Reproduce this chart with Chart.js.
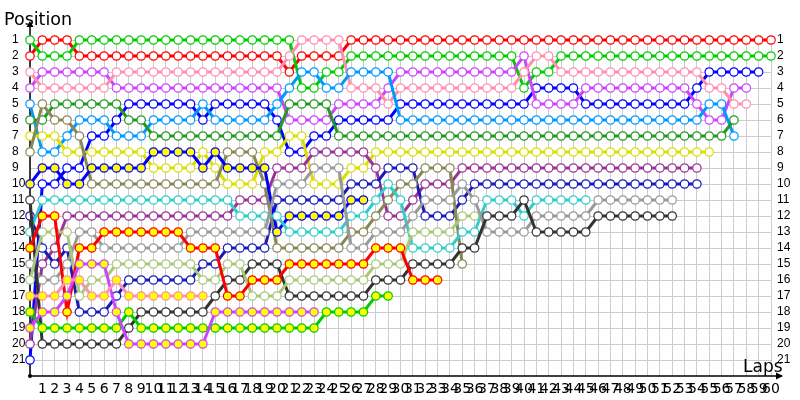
<!DOCTYPE html>
<html><head><meta charset="utf-8">
<script src="https://cdn.jsdelivr.net/npm/chart.js@4/dist/chart.umd.min.js"></script>
<style>html,body{margin:0;padding:0;background:#fff;}#wrap{width:800px;height:400px;position:relative;}</style>
</head><body><div id="wrap"><canvas id="c"></canvas></div>
<script>
// ---- DATA ----
const lapLabels = [0,1,2,3,4,5,6,7,8,9,10,11,12,13,14,15,16,17,18,19,20,21,22,23,24,25,26,27,28,29,30,31,32,33,34,35,36,37,38,39,40,41,42,43,44,45,46,47,48,49,50,51,52,53,54,55,56,57,58,59,60];
const positionTicks = [1,2,3,4,5,6,7,8,9,10,11,12,13,14,15,16,17,18,19,20,21];

const red = [2,1,1,1,2,2,2,2,2,2, 2,2,2,2,2,2,2,2,2,2, 2,3,2,2,2,2,1,1,1,1, 1,1,1,1,1,1,1,1,1,1, 1,1,1,1,1,1,1,1,1,1, 1,1,1,1,1,1,1,1,1,1, 1];
const green = [1,2,2,2,1,1,1,1,1,1, 1,1,1,1,1,1,1,1,1,1, 1,1,4,4,3,3,2,2,2,2, 2,2,2,2,2,2,2,2,2,2, 4,3,3,2,2,2,2,2,2,2, 2,2,2,2,2,2,2,2,2,2, 2];
const pink = [3,4,4,4,4,4,4,3,3,3, 3,3,3,3,3,3,3,3,3,3, 3,2,1,1,1,1,4,4,4,5, 4,4,4,4,4,4,4,4,4,4, 3,2,2,3,3,3,3,3,3,3, 3,3,3,3,3,4,4,5,5];
const purple = [4,3,3,3,3,3,3,4,4,4, 4,4,4,4,4,4,4,4,4,4, 4,6,6,6,6,5,5,5,5,4, 3,3,3,3,3,3,3,3,3,3, 2,5,5,5,5,4,4,4,4,4, 4,4,4,4,5,6,6,4,4];
const blue = [21,10,10,9,9,7,7,6,5,5, 5,5,5,5,6,5,5,5,5,5, 6,8,8,7,7,6,6,6,6,6, 5,5,5,5,5,5,5,5,5,5, 5,4,4,4,4,5,5,5,5,5, 5,5,5,5,4,3,3,3,3,3];
const sky = [5,8,8,7,6,6,6,7,7,7, 6,6,6,6,5,6,6,6,6,6, 5,4,3,3,4,4,3,3,3,3, 6,6,6,6,6,6,6,6,6,6, 6,6,6,6,6,6,6,6,6,6, 6,6,6,6,6,5,5,7];
const dkGreen = [6,6,5,5,5,5,5,5,6,6, 7,7,7,7,7,7,7,7,7,7, 7,5,5,5,5,7,7,7,7,7, 7,7,7,7,7,7,7,7,7,7, 7,7,7,7,7,7,7,7,7,7, 7,7,7,7,7,7,7,6];
const yellow = [7,7,7,8,8,8,8,8,8,8, 9,9,9,9,8,9,10,10,10,8, 8,7,7,10,10,10,9,9,8,8, 8,8,8,8,8,8,8,8,8,8, 8,8,8,8,8,8,8,8,8,8, 8,8,8,8,8,8];
const olive = [8,5,6,6,7,10,10,10,10,10, 10,10,10,10,10,10,8,8,8,10, 14,14,14,14,14,14,13,13,12,11, 10,10,9,9,9,15];
const blueY = [10,9,9,10,10,9,9,9,9,9, 8,8,8,8,9,8,9,9,9,9, 13,12,12,12,12,12,11,11];
const teal = [13,11,11,11,11,11,11,11,11,11, 11,11,11,11,11,11,11,12,12,12, 12,13,13,13,13,13,12,12,11,10, 11,14,14,14,14,13,13,11,11,11, 12,11,11,11,11,11];
const plum = [20,15,14,12,12,12,12,12,12,12, 12,12,12,12,12,12,12,11,11,11, 9,9,9,8,8,8,8,8,9,12, 12,11,10,10,10,9,9,9,9,9, 9,9,9,9,9,9,9,9,9,9, 9,9,9,9,9];
const navy = [12,14,15,14,18,18,18,17,16,16, 16,16,16,16,15,15,14,14,14,14, 11,11,11,11,11,11,10,10,10,9, 9,9,12,12,12,11,10,10,10,10, 10,10,10,10,10,10,10,10,10,10, 10,10,10,10,10];
const gray = [15,16,16,15,13,13,14,14,14,14, 14,14,14,13,13,13,13,13,13,13, 10,10,10,9,9,9,14,14,13,13, 13,12,11,11,11,10,11,13,13,13, 13,12,12,12,12,12,11,11,11,11, 11,11,11];
const dkGray = [11,20,20,20,20,20,20,20,19,18, 18,18,18,18,18,17,16,16,15,15, 15,17,17,17,17,17,17,17,16,16, 16,15,15,15,15,14,14,12,12,12, 11,13,13,13,13,13,12,12,12,12, 12,12,12];
const ltGreen = [16,13,13,13,17,16,16,15,15,15, 15,15,15,15,16,16,15,15,17,17, 17,16,16,16,16,16,16,16,15,15, 15,13,13,13,13,12,12];
const redY = [14,12,12,18,14,14,13,13,13,13, 13,13,13,14,14,14,17,17,16,16, 16,15,15,15,15,15,15,15,14,14, 14,16,16,16];
const greenY = [18,19,19,19,19,19,19,19,18,19, 19,19,19,19,19,19,19,19,19,19, 19,19,19,19,18,18,18,18,17,17];
const magentaY = [19,18,18,17,15,15,15,18,20,20, 20,20,20,20,20,18,18,18,18,18, 18,18,18,18];
const pinkY = [17,17,17,16,16,17,17,16,17,17, 17,17,17,17,17];

// ---- STYLE ----
const W = '#ffffff', Y = '#ffff00';
const series = [
  ['pinkY', pinkY, '#ff8fb0', Y],
  ['magentaY', magentaY, '#cc44ff', Y],
  ['greenY', greenY, '#00cc00', Y],
  ['redY', redY, '#ff0000', Y],
  ['ltGreen', ltGreen, '#aac87a', W],
  ['dkGray', dkGray, '#333333', W],
  ['gray', gray, '#999999', W],
  ['teal', teal, '#33cccc', W],
  ['blueY', blueY, '#0000ff', Y],
  ['olive', olive, '#888855', W],
  ['navy', navy, '#1a1ab8', W],
  ['plum', plum, '#993399', W],
  ['yellow', yellow, '#dddd00', W],
  ['dkGreen', dkGreen, '#229922', W],
  ['sky', sky, '#0099ff', W],
  ['pink', pink, '#ff8fb0', W],
  ['purple', purple, '#cc44ff', W],
  ['blue', blue, '#0000ff', W],
  ['green', green, '#00cc00', W],
  ['red', red, '#ff0000', W]
];

const datasets = series.map(([name, data, col, fill]) => ({
  label: name, data: data, borderColor: col, backgroundColor: fill,
  pointBorderColor: col, pointBackgroundColor: fill,
  borderWidth: 3, pointRadius: 4.2, pointHoverRadius: 4.2, pointBorderWidth: 1.2,
  tension: 0, clip: false, fill: false
}));

const deco = {
  id: 'deco',
  beforeDatasetsDraw(chart) {
    const ctx = chart.ctx, xs = chart.scales.x, ys = chart.scales.y;
    const x0 = xs.getPixelForValue(0), yb = ys.getPixelForValue(22);
    ctx.save();
    ctx.strokeStyle = '#000'; ctx.fillStyle = '#000'; ctx.lineWidth = 1.5;
    ctx.beginPath(); ctx.moveTo(x0, yb); ctx.lineTo(x0, 26); ctx.stroke();
    ctx.beginPath(); ctx.moveTo(x0 - 3.5, 27); ctx.lineTo(x0 + 3.5, 27); ctx.lineTo(x0, 21); ctx.closePath(); ctx.fill();
    ctx.beginPath(); ctx.moveTo(x0, yb); ctx.lineTo(782, yb); ctx.stroke();
    ctx.beginPath(); ctx.moveTo(776, yb - 3.5); ctx.lineTo(776, yb + 3.5); ctx.lineTo(783, yb); ctx.closePath(); ctx.fill();
    ctx.beginPath(); ctx.arc(x0, yb, 2, 0, Math.PI * 2); ctx.fill();
    ctx.restore();
  },
  afterDraw(chart) {
    const ctx = chart.ctx;
    ctx.save();
    ctx.fillStyle = '#000'; ctx.textBaseline = 'alphabetic'; ctx.textAlign = 'left';
    ctx.font = '17.5px "DejaVu Sans"';
    ctx.fillText('Position', 4, 25);
    ctx.font = '17px "DejaVu Sans"';
    ctx.fillText('Laps', 743, 372);
    ctx.restore();
  }
};

const yTicks = s => { s.ticks = positionTicks.map(v => ({ value: v })); };

new Chart(document.getElementById('c'), {
  type: 'line',
  data: { labels: lapLabels, datasets: datasets },
  options: {
    responsive: true, maintainAspectRatio: false, animation: false,
    layout: { padding: { left: 12, top: 35, right: 0, bottom: 0 } },
    plugins: { legend: { display: false }, tooltip: { enabled: false } },
    scales: {
      x: {
        type: 'category', offset: false,
        grid: { color: '#cccccc', lineWidth: 1, drawTicks: false },
        border: { display: false },
        ticks: { autoSkip: false, maxRotation: 0, minRotation: 0, padding: 5, color: '#000',
          font: { family: 'DejaVu Sans', size: 14 },
          callback: (v, i) => (i === 0 ? '' : String(lapLabels[i])) },
        afterFit: s => { s.height = 24; }
      },
      y: {
        type: 'linear', position: 'left', reverse: true, min: 0.6875, max: 22,
        grid: { color: '#cccccc', lineWidth: 1, drawTicks: false },
        border: { display: false },
        afterBuildTicks: yTicks,
        ticks: { autoSkip: false, crossAlign: 'far', padding: 0, color: '#000', font: { family: 'Liberation Sans', size: 12 } },
        afterFit: s => { s.width = 18; }
      },
      y2: {
        type: 'linear', position: 'right', reverse: true, min: 0.6875, max: 22,
        grid: { display: false, drawTicks: false },
        border: { display: false },
        afterBuildTicks: yTicks,
        ticks: { autoSkip: false, padding: 6, color: '#000', font: { family: 'Liberation Sans', size: 12 } },
        afterFit: s => { s.width = 29; }
      }
    }
  },
  plugins: [deco]
});
</script>
</body></html>
